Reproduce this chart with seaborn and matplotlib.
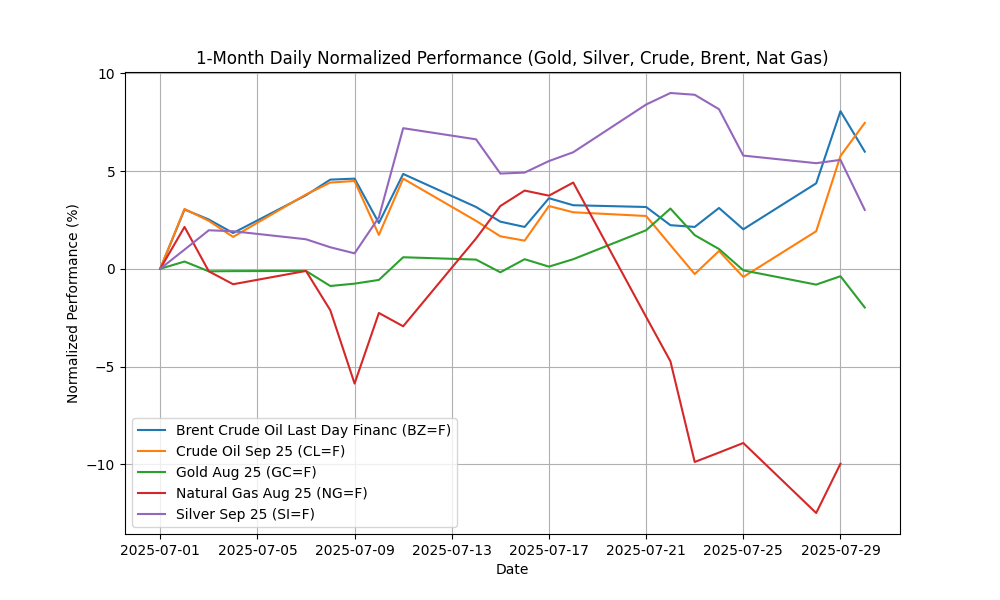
import matplotlib
matplotlib.use("Agg")
import matplotlib.pyplot as plt
import matplotlib.dates as mdates
import seaborn as sns
import pandas as pd
import numpy as np

dates = ["2025-07-01", "2025-07-02", "2025-07-03", "2025-07-04", "2025-07-07", "2025-07-08",
         "2025-07-09", "2025-07-10", "2025-07-11", "2025-07-14", "2025-07-15", "2025-07-16",
         "2025-07-17", "2025-07-18", "2025-07-21", "2025-07-22", "2025-07-23", "2025-07-24",
         "2025-07-25", "2025-07-28", "2025-07-29", "2025-07-30"]

brent = [0, 3.03, 2.52, 1.83, 3.76, 4.56, 4.61, 2.34, 4.85, 3.16, 2.41, 2.14, 3.61, 3.25,
         3.16, 2.23, 2.14, 3.11, 2.02, 4.37, 8.06, 5.99]
crude = [0, 3.06, 2.45, 1.63, 3.80, 4.41, 4.49, 1.73, 4.61, 2.45, 1.66, 1.44, 3.21, 2.89,
         2.70, 1.21, -0.27, 0.91, -0.42, 1.92, 5.77, 7.46]
gold = [0, 0.37, -0.13, -0.12, -0.11, -0.88, -0.76, -0.57, 0.59, 0.47, -0.18, 0.49, 0.11, 0.49,
        1.97, 3.08, 1.72, 1.01, -0.08, -0.81, -0.38, -1.98]
natgas = [0, 2.14, -0.13, -0.79, -0.11, -2.12, -5.87, -2.26, -2.94, 1.55, 3.21, 4.00, 3.74, 4.41,
          -2.46, -4.73, -9.88, -9.40, -8.91, -12.49, -9.97, None]
silver = [0, 0.98, 1.97, 1.92, 1.51, 1.10, 0.79, 2.63, 7.19, 6.62, 4.87, 4.92, 5.51, 5.96,
          8.40, 8.99, 8.90, 8.16, 5.79, 5.40, 5.57, 3.01]

series_names = ["Brent Crude Oil Last Day Financ (BZ=F)", "Crude Oil Sep 25 (CL=F)",
                "Gold Aug 25 (GC=F)", "Natural Gas Aug 25 (NG=F)", "Silver Sep 25 (SI=F)"]
series_values = [brent, crude, gold, natgas, silver]

rows = []
for name, vals in zip(series_names, series_values):
    for d, v in zip(dates, vals):
        if v is not None:
            rows.append({"Date": pd.Timestamp(d), "Value": v, "Series": name})
df = pd.DataFrame(rows)

fig, ax = plt.subplots(figsize=(10, 6), dpi=100)
sns.lineplot(data=df, x="Date", y="Value", hue="Series", hue_order=series_names,
             ax=ax, linewidth=1.5, estimator=None, sort=True)
ax.set_title("1-Month Daily Normalized Performance (Gold, Silver, Crude, Brent, Nat Gas)")
ax.set_xlabel("Date")
ax.set_ylabel("Normalized Performance (%)")
ax.grid(True)
ax.xaxis.set_major_locator(mdates.DayLocator(bymonthday=[1, 5, 9, 13, 17, 21, 25, 29]))
ax.xaxis.set_major_formatter(mdates.DateFormatter("%Y-%m-%d"))
ax.legend(loc="lower left", title=None)
fig.savefig("out.png", dpi=100)
